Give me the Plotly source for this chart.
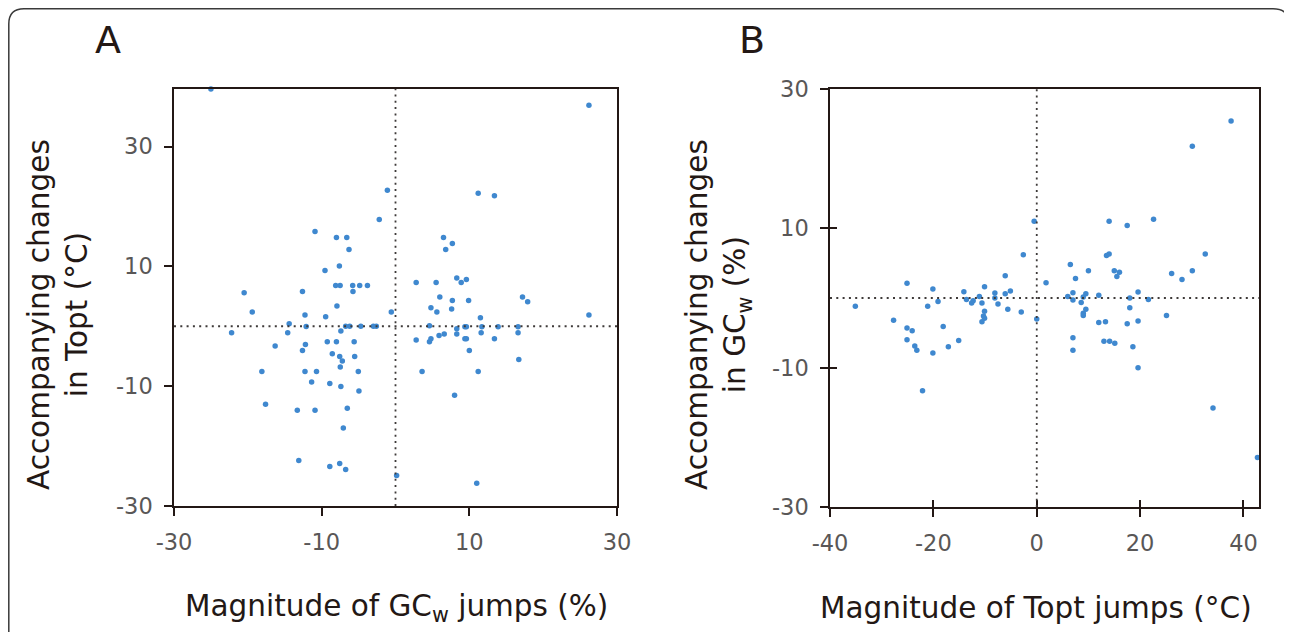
import plotly.graph_objects as go

# panel A: GCw jumps (%) vs accompanying Topt change (degC)
a_x = [-25.0, -1.1, -2.2, -10.9, -8.0, -6.6, -6.3, -9.55, -7.6, -8.1, -7.5, -5.8, -4.85, -3.8,
       -5.76, -20.5, -12.6, -19.4, -12.26, -7.93, -9.46, -0.57, -14.4, -22.2, -14.6, -12.1,
       -7.4, -6.75, -6.2, -4.7, -3.0, -2.6, -16.3, -12.2, -12.6, -9.24, -8.0, -5.6, -8.56,
       -7.56, -7.2, -7.48, -5.53, -18.1, -12.26, -10.7, -5.04, -11.36, -8.9, -7.4, -4.95,
       -17.6, -13.3, -10.9, -6.53, -7.07, -13.1, -8.9, -7.56, -6.75, 0.15,
       26.2, 11.2, 13.4, 6.5, 7.7, 6.8, 2.8, 5.5, 8.3, 8.9, 9.6, 6.0, 7.7, 9.9, 17.2, 17.9,
       4.8, 5.6, 7.6, 11.5, 26.2, 4.6, 8.3, 9.4, 9.6, 11.7, 13.9, 16.6, 16.6, 11.6, 5.9, 6.6,
       8.3, 2.8, 4.6, 4.8, 9.4, 9.6, 13.4, 10.0, 16.7, 3.6, 11.2, 8.0, 11.0]
a_y = [39.6, 22.7, 17.8, 15.8, 14.8, 14.8, 12.8, 9.3, 10.05, 6.8, 6.8, 6.8, 6.8, 6.8,
       5.8, 5.6, 5.8, 2.4, 1.9, 3.4, 1.6, 2.4, 0.4, -1.1, -1.1, -0.05,
       -0.8, 0.0, 0.0, 0.0, 0.0, 0.0, -3.3, -3.05, -4.05, -2.6, -2.6, -2.6, -4.6,
       -5.05, -5.8, -6.8, -5.05, -7.55, -7.55, -7.55, -7.55, -9.3, -9.55, -10.05, -10.8,
       -13.0, -14.0, -14.0, -13.7, -17.0, -22.4, -23.4, -22.9, -23.9, -24.9,
       36.9, 22.2, 21.8, 14.8, 13.8, 12.8, 7.3, 7.3, 8.05, 7.3, 7.8, 4.9, 4.3, 4.3, 4.9, 4.1,
       3.1, 2.4, 2.9, 1.4, 1.9, 0.1, -0.4, -0.1, -0.1, -0.1, -0.1, -0.1, -1.1, -1.1, -1.55, -1.3,
       -1.3, -2.3, -2.6, -2.1, -2.1, -2.1, -2.1, -4.05, -5.55, -7.55, -7.55, -11.5, -26.2]

# panel B: Topt jumps (degC) vs accompanying GCw change (%)
b_x = [-0.5, -2.6, 1.8, -25.1, -20.1, -6.1, -10.1, -5.1, -14.1, -11.1, -8.1,
       -6.1, -13.6, -12.3, -12.6, -10.6, -8.1, -7.5, -19.1, -21.1, -35.1, -10.1, -10.3, -10.1,
       -10.6, -5.6, -3.0, 0.0, -27.7, -25.1, -24.1, -25.1, -18.1, -23.6, -23.2, -20.1, -17.1,
       -15.1, -22.1,
       37.6, 30.1, 14.0, 17.5, 22.6, 13.5, 14.0, 32.6, 6.5, 10.0, 15.0, 16.0, 15.5, 26.1, 28.1,
       30.1, 7.5, 6.0, 7.0, 7.0, 8.6, 9.0, 9.5, 9.5, 9.0, 9.0, 12.0, 12.0, 13.3, 7.0, 7.0,
       13.0, 14.1, 15.1, 18.0, 18.0, 17.5, 19.6, 19.6, 18.6, 19.6, 21.6, 25.1, 34.1, 42.7]
b_y = [11.0, 6.2, 2.2, 2.1, 1.3, 3.2, 1.6, 1.0, 0.9, 0.2, 0.7,
       0.6, -0.2, -0.4, -0.7, -0.7, 0.0, -0.85, -0.5, -1.2, -1.2, -1.9, -2.6, -2.9,
       -3.4, -1.6, -2.0, -3.0, -3.2, -4.3, -4.7, -6.0, -4.1, -6.9, -7.5, -7.9, -7.0,
       -6.1, -13.3,
       25.4, 21.8, 11.0, 10.4, 11.3, 6.1, 6.3, 6.3, 4.8, 3.9, 3.9, 3.7, 3.1, 3.5, 2.65,
       3.9, 2.8, 0.2, 0.75, -0.3, -0.65, 0.15, 0.6, -1.6, -2.2, -2.5, 0.4, -3.5, -3.4, -5.7, -7.5,
       -6.2, -6.2, -6.5, 0.0, -1.4, -3.7, 0.85, -3.3, -7.0, -10.0, -0.2, -2.5, -15.8, -22.9]

ticks_a = [-30, -10, 10, 30]
ticks_bx = [-40, -20, 0, 20, 40]

# page puts the plot div 8px in from the window corner, so size it to fill the rest
OFF = 8
W, H = 1292 - OFF, 632 - OFF
blue = "#3f88cf"
dark = "#231815"
grey = "#595757"
FONT = "DejaVu Sans"


def px(x):
    return (x - OFF) / W


def py(y):
    return 1 - (y - OFF) / H


fig = go.Figure()
fig.add_trace(go.Scatter(x=a_x, y=a_y, mode="markers", xaxis="x", yaxis="y",
                         marker=dict(size=5.5, color=blue), cliponaxis=False))
fig.add_trace(go.Scatter(x=b_x, y=b_y, mode="markers", xaxis="x2", yaxis="y2",
                         marker=dict(size=5.5, color=blue), cliponaxis=False))
# empty trace so the overlay axes (inner half of panel B's cross ticks) get drawn
fig.add_trace(go.Scatter(x=[], y=[], xaxis="x3", yaxis="y3", hoverinfo="skip"))

ax = dict(showline=True, linecolor=dark, linewidth=1.5, mirror=True, ticks="outside",
          ticklen=8, tickwidth=1.5, tickcolor=dark, showgrid=False, zeroline=False,
          tickfont=dict(family=FONT, size=22.5, color=grey), automargin=False,
          ticklabelstandoff=7, fixedrange=True)
inner = dict(ticks="inside", ticklen=7, tickwidth=1.5, tickcolor=dark, showline=False,
             showgrid=False, zeroline=False, showticklabels=False, automargin=False,
             fixedrange=True)


def tk(vals):
    return dict(tickvals=vals, ticktext=[str(v) for v in vals])


fig.update_layout(
    template="none",
    width=W, height=H, showlegend=False, autosize=False,
    margin=dict(l=0, r=0, t=0, b=0, pad=0),
    paper_bgcolor="white", plot_bgcolor="white",
    xaxis=dict(ax, domain=[px(174), px(617)], range=[-30, 30], anchor="y", **tk(ticks_a)),
    yaxis=dict(ax, domain=[py(506), py(89)], range=[-30, 39.6], anchor="x", **tk(ticks_a)),
    xaxis2=dict(ax, domain=[px(830), px(1259)], range=[-40, 43], anchor="y2", **tk(ticks_bx)),
    yaxis2=dict(ax, domain=[py(507), py(89)], range=[-30, 30], anchor="x2", **tk(ticks_a)),
    xaxis3=dict(inner, overlaying="x2", anchor="y3", range=[-40, 43], tickvals=ticks_bx),
    yaxis3=dict(inner, overlaying="y2", anchor="x3", range=[-30, 30], tickvals=ticks_a),
)

# dotted zero lines
dot = dict(color="#3e3a39", width=1.8, dash="2px,4.3px")
fig.add_shape(type="line", xref="x", yref="y", x0=-30, x1=30, y0=0, y1=0, line=dot)
fig.add_shape(type="line", xref="x", yref="y", x0=0, x1=0, y0=-30, y1=39.6, line=dot)
fig.add_shape(type="line", xref="x2", yref="y2", x0=-40, x1=43, y0=0, y1=0, line=dot)
fig.add_shape(type="line", xref="x2", yref="y2", x0=0, x1=0, y0=-30, y1=30, line=dot)

# rounded frame around the figure
path = (f"M {px(8.8)} {py(640)} L {px(8.8)} {py(24)} Q {px(8.8)} {py(8.8)} {px(24)} {py(8.8)} "
        f"L {px(1273)} {py(8.8)} Q {px(1289)} {py(8.8)} {px(1289)} {py(24)} L {px(1289)} {py(640)}")
fig.add_shape(type="path", xref="paper", yref="paper", path=path,
              line=dict(color="#3a3a3a", width=1.5))

tfont = dict(family=FONT, size=29.5, color=dark)
notes = [
    ("A", 108, 40, 0, dict(tfont, size=38)),
    ("B", 752, 40, 0, dict(tfont, size=38)),
    ("Accompanying changes<br>in Topt (°C)", 58, 315, -90, tfont),
    ("Accompanying changes<br>in GC<sub>w</sub> (%)", 718, 315, -90, tfont),
    ("Magnitude of GC<sub>w</sub> jumps (%)", 396, 608, 0, tfont),
    ("Magnitude of Topt jumps (°C)", 1036, 608, 0, tfont),
]
for text, x, y, ang, f in notes:
    fig.add_annotation(text=text, x=px(x), y=py(y), xref="paper", yref="paper",
                       showarrow=False, textangle=ang, font=f,
                       xanchor="center", yanchor="middle")

fig.write_html("out.html")
